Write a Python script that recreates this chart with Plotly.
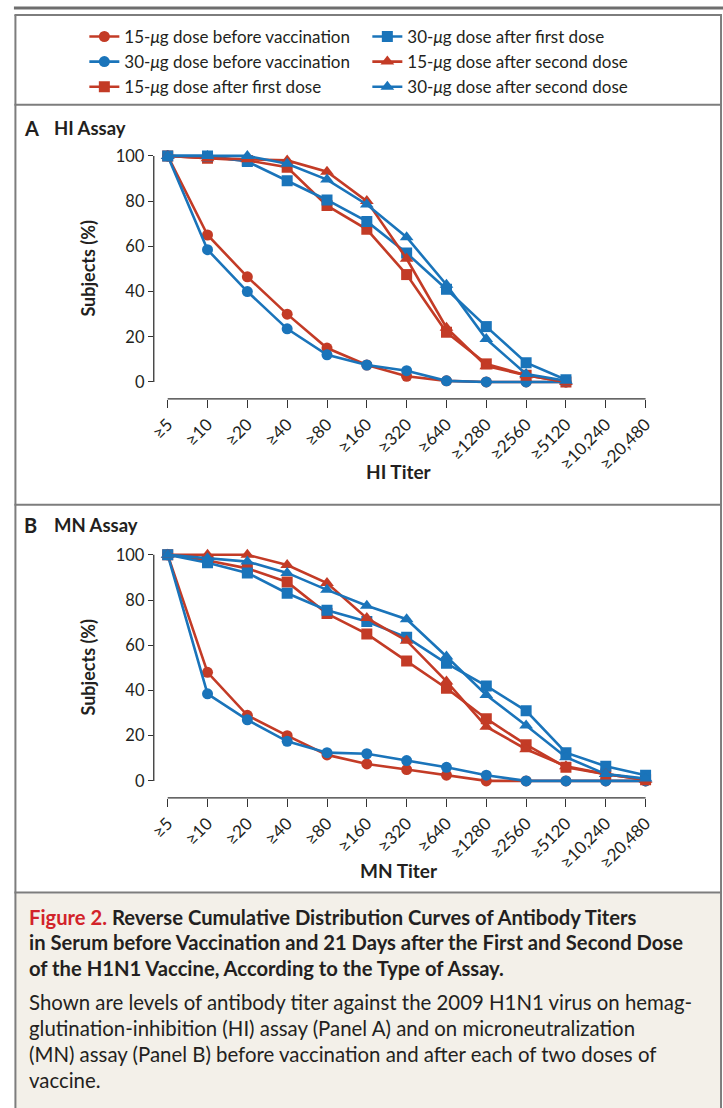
import plotly.graph_objects as go

titers = ["≥5", "≥10", "≥20", "≥40", "≥80", "≥160", "≥320", "≥640",
          "≥1280", "≥2560", "≥5120", "≥10,240", "≥20,480"]

# Panel A: HI assay (percent of subjects), through ≥5120
hi_15_before = [100, 65, 46.5, 30, 15, 7.5, 2.5, 0.5, 0, 0, 0]
hi_30_before = [100, 58.5, 40, 23.5, 12, 7.5, 5, 0.5, 0, 0, 0]
hi_15_first = [100, 99, 98, 95, 78, 67.5, 47.5, 22, 8, 3, 0]
hi_30_first = [100, 100, 97.5, 89, 80.5, 71, 57, 41, 24.5, 8.5, 1]
hi_15_second = [100, 99, 98.5, 98, 93, 80, 54.5, 24, 7, 3, 0]
hi_30_second = [100, 100, 100, 96.5, 89.5, 78.5, 64, 43, 19, 3.5, 0.5]

# Panel B: MN assay (percent of subjects), through ≥20,480
mn_15_before = [100, 48, 29, 20, 11.5, 7.5, 5, 2.5, 0, 0, 0, 0, 0]
mn_30_before = [100, 38.5, 27, 17.5, 12.5, 12, 9, 6, 2.5, 0, 0, 0, 0]
mn_15_first = [100, 97.5, 94, 88, 74, 65, 53, 41, 27.5, 16, 6, 3, 0.5]
mn_30_first = [100, 96.5, 92, 83, 75.5, 70.5, 63.5, 52, 42, 31, 12.5, 6.5, 2.5]
mn_15_second = [100, 100, 100, 95.5, 87.5, 72, 62, 44, 24, 14, 6.5, 3, 0.5]
mn_30_second = [100, 98.5, 97, 92, 84.5, 77.5, 71.5, 55, 38, 24.5, 10.5, 3, 1]

series_names = [
    "15-<i>μ</i>g dose before vaccination",
    "30-<i>μ</i>g dose before vaccination",
    "15-<i>μ</i>g dose after first dose",
    "30-<i>μ</i>g dose after first dose",
    "15-<i>μ</i>g dose after second dose",
    "30-<i>μ</i>g dose after second dose",
]
yticks = [0, 20, 40, 60, 80, 100]

RED = "#c33b26"
BLUE = "#1a74ba"
INK = "#231f20"
GRAY = "#7d7d7d"
FONT = "Lato"

styles = [
    (RED, "circle", 11),
    (BLUE, "circle", 11),
    (RED, "square", 11),
    (BLUE, "square", 11),
    (RED, "triangle-up", 12),
    (BLUE, "triangle-up", 12),
]
# row-major order of the two-column legend
legend_ranks = [1, 3, 5, 2, 4, 6]

W, H = 723, 1108

fig = go.Figure()

hi_data = [hi_15_before, hi_30_before, hi_15_first, hi_30_first, hi_15_second, hi_30_second]
mn_data = [mn_15_before, mn_30_before, mn_15_first, mn_30_first, mn_15_second, mn_30_second]

for i, vals in enumerate(hi_data):
    c, sym, sz = styles[i]
    fig.add_trace(go.Scatter(
        x=titers[:len(vals)], y=vals, mode="lines+markers", name=series_names[i],
        line=dict(color=c, width=2.6), marker=dict(color=c, symbol=sym, size=sz, line=dict(width=0)),
        xaxis="x", yaxis="y", legendrank=legend_ranks[i], showlegend=True))

for i, vals in enumerate(mn_data):
    c, sym, sz = styles[i]
    fig.add_trace(go.Scatter(
        x=titers[:len(vals)], y=vals, mode="lines+markers", name=series_names[i],
        line=dict(color=c, width=2.6), marker=dict(color=c, symbol=sym, size=sz, line=dict(width=0)),
        xaxis="x2", yaxis="y2", showlegend=False))

def px_x(v):
    return v / W

def px_y(v):
    return 1 - v / H

xdom = [px_x(149), px_x(659)]
ax_common_x = dict(
    type="category", categoryorder="array", categoryarray=titers,
    tickmode="array", tickvals=titers, ticktext=titers,
    range=[-0.35, 12.35], tickangle=-45, ticks="outside", ticklen=8,
    tickwidth=1.3, tickcolor="#333333", showline=False, showgrid=False,
    zeroline=False, tickfont=dict(family=FONT, size=17, color=INK), domain=xdom,
    fixedrange=True,
)
ax_common_y = dict(
    range=[-7.5, 103], tickvals=yticks, ticks="outside", ticklen=5,
    tickwidth=1.3, tickcolor="#333333", showline=False, showgrid=False,
    zeroline=False, tickfont=dict(family=FONT, size=16.5, color=INK), fixedrange=True,
)

fig.update_layout(
    width=W, height=H, margin=dict(l=0, r=0, t=0, b=0),
    paper_bgcolor="white", plot_bgcolor="rgba(0,0,0,0)",
    font=dict(family=FONT, color=INK),
    xaxis=dict(**ax_common_x, anchor="y"),
    yaxis=dict(**ax_common_y, domain=[px_y(397), px_y(146.5)], anchor="x"),
    xaxis2=dict(**ax_common_x, anchor="y2"),
    yaxis2=dict(**ax_common_y, domain=[px_y(797), px_y(546.5)], anchor="x2"),
    legend=dict(
        orientation="h", x=px_x(79), y=px_y(16), xanchor="left", yanchor="top",
        entrywidth=238, entrywidthmode="pixels", traceorder="normal",
        font=dict(family=FONT, size=17, color=INK), bgcolor="rgba(0,0,0,0)",
        itemwidth=30, tracegroupgap=0,
    ),
    showlegend=True,
)

shapes = []
# top rule
shapes.append(dict(type="line", xref="paper", yref="paper", x0=px_x(8), x1=1, y0=px_y(5), y1=px_y(5),
                   line=dict(color="#6e6e6e", width=3)))
# caption background
shapes.append(dict(type="rect", xref="paper", yref="paper", x0=px_x(10), x1=px_x(720.5), y0=0, y1=px_y(893),
                   fillcolor="#f3f0e9", line=dict(width=0), layer="below"))
# outer frame
shapes.append(dict(type="line", xref="paper", yref="paper", x0=px_x(9.5), x1=px_x(9.5), y0=-0.01, y1=px_y(12),
                   line=dict(color=GRAY, width=2)))
shapes.append(dict(type="line", xref="paper", yref="paper", x0=px_x(721), x1=px_x(721), y0=-0.01, y1=px_y(12),
                   line=dict(color=GRAY, width=2)))
for yy in [12, 102, 503, 892]:
    shapes.append(dict(type="line", xref="paper", yref="paper", x0=px_x(8.5), x1=px_x(722), y0=px_y(yy), y1=px_y(yy),
                       line=dict(color=GRAY, width=2)))
# detached axis lines
for xa, ya in [("x", "y"), ("x2", "y2")]:
    shapes.append(dict(type="line", xref=xa, yref=ya + " domain", x0=0, x1=12, y0=0, y1=0,
                       line=dict(color="#333333", width=1.3)))
    shapes.append(dict(type="line", xref=xa + " domain", yref=ya, x0=0, x1=0, y0=0, y1=100,
                       line=dict(color="#333333", width=1.3)))
fig.update_layout(shapes=shapes)

ann = []
def text(x, y, s, size, bold=False, color=INK, anchor="left", angle=0):
    ann.append(dict(xref="paper", yref="paper", x=px_x(x), y=px_y(y), text=("<b>%s</b>" % s) if bold else s,
                    showarrow=False, xanchor=anchor, yanchor="middle", textangle=angle,
                    font=dict(family=FONT, size=size, color=color)))

text(16, 125, "A", 20, bold=True)
text(46, 125, "HI Assay", 18.5, bold=True)
text(16, 523, "B", 20, bold=True)
text(46, 523, "MN Assay", 18.5, bold=True)
text(83, 266, "Subjects (%)", 18, bold=True, anchor="center", angle=-90)
text(83, 666, "Subjects (%)", 18, bold=True, anchor="center", angle=-90)
text(396, 470, "HI Titer", 19, bold=True, anchor="center")
text(396, 870, "MN Titer", 19, bold=True, anchor="center")

text(21, 916, "<span style='color:#d2232a'>Figure 2.</span> Reverse Cumulative Distribution Curves of Antibody Titers", 20.2, bold=True)
text(21, 942, "in Serum before Vaccination and 21 Days after the First and Second Dose", 20.2, bold=True)
text(21, 968, "of the H1N1 Vaccine, According to the Type of Assay.", 20.2, bold=True)
text(21, 1002, "Shown are levels of antibody titer against the 2009 H1N1 virus on hemag-", 20.4)
text(21, 1028, "glutination-inhibition (HI) assay (Panel A) and on microneutralization", 20.4)
text(21, 1054, "(MN) assay (Panel B) before vaccination and after each of two doses of", 20.4)
text(21, 1080, "vaccine.", 20.4)

fig.update_layout(annotations=ann)

fig.write_html("out.html", config={"displayModeBar": False},
               post_script="document.body.style.margin='0';document.body.style.padding='0';document.body.style.overflow='hidden';")
